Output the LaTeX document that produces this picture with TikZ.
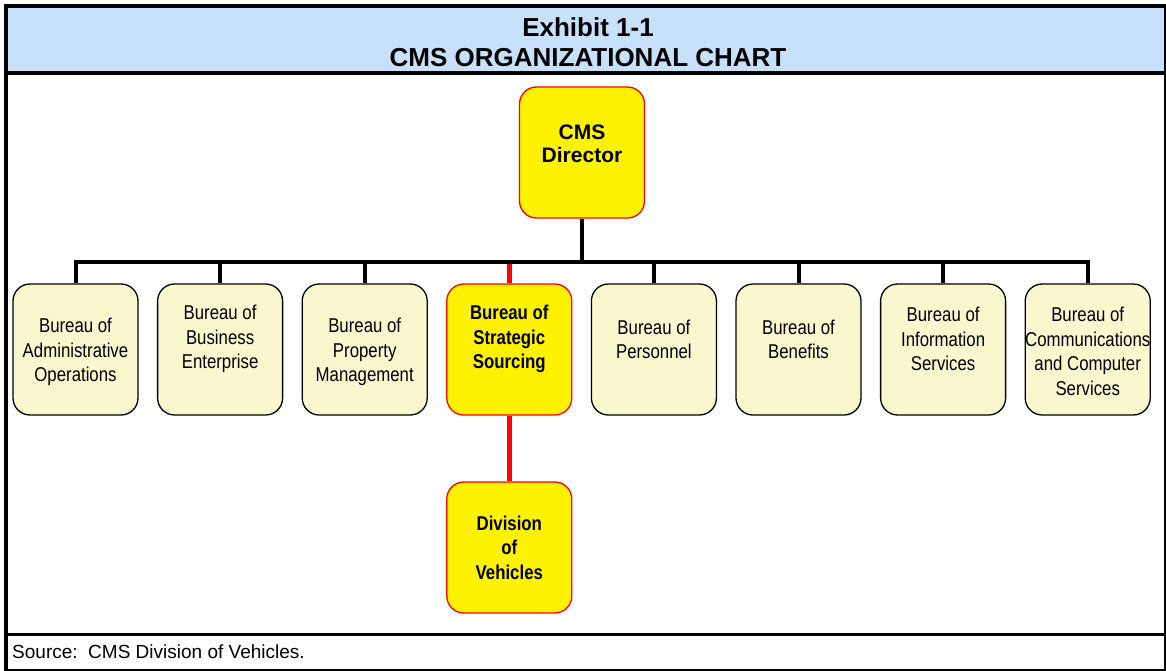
\documentclass[tikz,border=0pt]{standalone}
\usepackage{fontspec}
\setmainfont{Liberation Sans}
\newfontfamily\narrowfont[FakeStretch=0.84]{Liberation Sans}
\usepackage{tikz}
\usetikzlibrary{positioning}
\definecolor{titleblue}{RGB}{198,225,249}
\definecolor{paleyellow}{RGB}{249,247,205}
\tikzstyle{bureau}=[rectangle,rounded corners=17pt,draw=black,line width=1.3pt,fill=paleyellow,
                  minimum width=125pt,minimum height=131pt,inner sep=0pt]
\tikzstyle{keybox}=[bureau,draw=red,fill=yellow]
\tikzstyle{btext}=[align=center,inner sep=0pt,font=\narrowfont\fontsize{20}{24.5}\selectfont]
\tikzstyle{kbtext}=[btext,font=\narrowfont\bfseries\fontsize{20}{24.5}\selectfont]
\tikzstyle{bline}=[line width=4pt,draw=black,line join=miter]
\tikzstyle{rline}=[line width=4.5pt,draw=red]
\tikzstyle{frame}=[line width=3.5pt,draw=black]

\begin{document}
\begin{tikzpicture}[x=1pt,y=-1pt,node distance=18.3pt]
  \useasboundingbox (0,0) rectangle (1166,671);
  % frame and title band
  \fill[titleblue] (6,6) rectangle (1165,73);
  \draw[frame] (6,6) rectangle (1165.5,670.5);
  \draw[frame] (6,73) -- (1165.5,73);
  \draw[frame] (6,634.5) -- (1165.5,634.5);
  \node[align=center,inner sep=0pt,font=\bfseries\fontsize{26}{30}\selectfont] (title) at (588,42)
    {Exhibit 1-1\\CMS ORGANIZATIONAL CHART};
  \node[anchor=west,inner sep=0pt,font=\fontsize{19}{22}\selectfont] (src) at (12,652)
    {Source:\ \ CMS Division of Vehicles.};

  % boxes
  \node[keybox] (dir) at (582,152.5) {};
  \node[bureau] (b1) at (75.5,349.5) {};
  \node[bureau,right=of b1] (b2) {};
  \node[bureau,right=of b2] (b3) {};
  \node[keybox,right=of b3] (b4) {};
  \node[bureau,right=of b4] (b5) {};
  \node[bureau,right=of b5] (b6) {};
  \node[bureau,right=of b6] (b7) {};
  \node[bureau,right=of b7] (b8) {};
  \node[keybox,below=65.7pt of b4] (div) {};

  % box texts
  \node[align=center,inner sep=0pt,font=\bfseries\fontsize{21}{23}\selectfont] (dirtext) at ([yshift=9pt]dir.center) {CMS\\Director};
  \node[btext] (t1) at ([yshift=-2.5pt]b1.center) {Bureau of\\Administrative\\Operations};
  \node[btext] (t2) at ([yshift=10.5pt]b2.center) {Bureau of\\Business\\Enterprise};
  \node[btext] (t3) at ([yshift=-2.5pt]b3.center) {Bureau of\\Property\\Management};
  \node[kbtext] (t4) at ([yshift=10.5pt]b4.center) {Bureau of\\Strategic\\Sourcing};
  \node[btext] (t5) at ([yshift=10pt]b5.center) {Bureau of\\Personnel};
  \node[btext] (t6) at ([yshift=10pt]b6.center) {Bureau of\\Benefits};
  \node[btext] (t7) at ([yshift=10.5pt]b7.center) {Bureau of\\Information\\Services};
  \node[btext] (t8) at ([yshift=-2pt]b8.center) {Bureau of\\Communications\\and Computer\\Services};
  \node[kbtext] (tdiv) at (div.center) {Division\\of\\Vehicles};

  % connectors
  \coordinate (bus) at (582,262);
  \draw[rline] (b4.north) -- (b4.north |- bus);
  \draw[rline] (b4.south) -- (div.north);
  \draw[bline] (b1.north) -- (b1.north |- bus) -- (b8.north |- bus) -- (b8.north);
  \draw[bline] (dir.south) -- (bus);
  \draw[bline] (b2.north) -- (b2.north |- bus);
  \draw[bline] (b3.north) -- (b3.north |- bus);
  \draw[bline] (b5.north) -- (b5.north |- bus);
  \draw[bline] (b6.north) -- (b6.north |- bus);
  \draw[bline] (b7.north) -- (b7.north |- bus);
\end{tikzpicture}
\end{document}
